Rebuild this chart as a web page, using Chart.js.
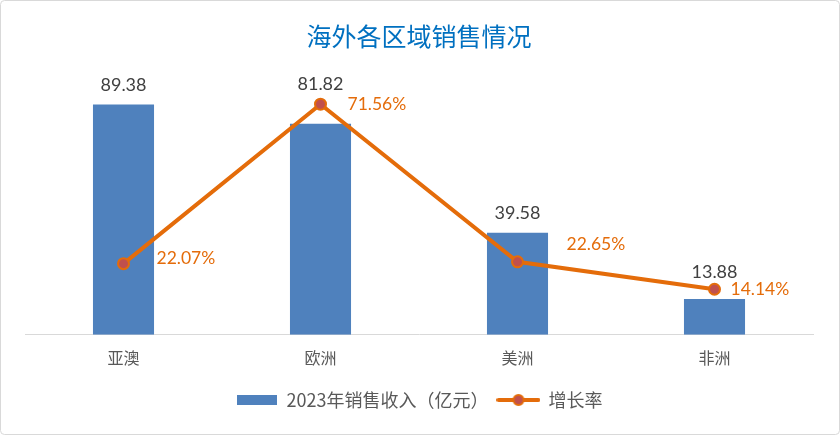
<!DOCTYPE html>
<html><head><meta charset="utf-8">
<script src="https://cdn.jsdelivr.net/npm/chart.js@4"></script>
<style>html,body{margin:0;padding:0;background:#fff}</style>
</head><body>
<canvas id="c" width="840" height="435" style="display:block;width:840px;height:435px"></canvas>
<script>
const categories = ['亚澳', '欧洲', '美洲', '非洲'];
const revenue = [89.38, 81.82, 39.58, 13.88];
const growth = [22.07, 71.56, 22.65, 14.14];
const seriesNames = ['2023年销售收入（亿元）', '增长率'];
const titleText = '海外各区域销售情况';

const BAR = '#4F81BD', LINE = '#E46C0A', MARK = '#C0504D';
const CJK = '"Noto Sans CJK SC", "Noto Sans", sans-serif';
const NUM = 'Lato, "Noto Sans", sans-serif';

function mkIcon(w, h, draw) {
  const c = document.createElement('canvas'); c.width = w; c.height = h;
  draw(c.getContext('2d')); return c;
}
const barIcon = mkIcon(40, 10, g => { g.fillStyle = BAR; g.fillRect(0, 0, 40, 10); });
const lineIcon = mkIcon(44, 14, g => {
  g.strokeStyle = LINE; g.lineWidth = 4; g.lineCap = 'round';
  g.beginPath(); g.moveTo(2, 7); g.lineTo(42, 7); g.stroke();
  g.beginPath(); g.arc(22, 7, 5, 0, Math.PI * 2); g.fillStyle = MARK; g.fill();
  g.lineWidth = 2; g.stroke();
});

const frame = {
  id: 'frame',
  beforeDraw(chart) {
    const g = chart.ctx; g.save();
    g.fillStyle = '#fff'; g.fillRect(0, 0, chart.width, chart.height);
    g.strokeStyle = '#D9D9D9'; g.lineWidth = 1;
    g.beginPath(); g.roundRect(0.5, 0.5, chart.width - 1, chart.height - 1, 4); g.stroke();
    g.restore();
  }
};

const valueLabels = {
  id: 'valueLabels',
  afterDatasetsDraw(chart, args, opts) {
    const g = chart.ctx; g.save();
    g.textBaseline = 'middle';
    g.font = '18px ' + NUM; g.fillStyle = '#404040'; g.textAlign = 'center';
    chart.getDatasetMeta(0).data.forEach((el, i) => {
      g.fillText(revenue[i].toFixed(2), el.x, el.y + opts.barDy[i]);
    });
    g.font = '17.5px ' + NUM; g.fillStyle = LINE; g.textAlign = 'left';
    chart.getDatasetMeta(1).data.forEach((el, i) => {
      g.fillText(growth[i].toFixed(2) + '%', el.x + opts.lineDx[i], el.y + opts.lineDy[i]);
    });
    g.restore();
  }
};

new Chart(document.getElementById('c'), {
  data: {
    labels: categories,
    datasets: [
      { type: 'bar', label: seriesNames[0], data: revenue, backgroundColor: BAR, yAxisID: 'y', order: 2,
        categoryPercentage: 1, barPercentage: 0.31 },
      { type: 'line', label: seriesNames[1], data: growth, borderColor: LINE, borderWidth: 4, yAxisID: 'y2', order: 1,
        pointRadius: 5.5, pointBorderWidth: 2, pointBackgroundColor: MARK, pointBorderColor: LINE, tension: 0 }
    ]
  },
  options: {
    responsive: false, animation: false, devicePixelRatio: 1,
    layout: { padding: { top: 21, left: 25, right: 27, bottom: 16 } },
    scales: {
      x: { offset: true, grid: { display: false, drawTicks: false },
           border: { display: true, color: '#D9D9D9', width: 1 },
           ticks: { padding: 14, color: '#595959', font: { family: CJK, size: 16 } } },
      y: { display: false, min: 0, max: 100 },
      y2: { display: false, min: 0, max: 80, position: 'right' }
    },
    plugins: {
      tooltip: { enabled: false },
      title: { display: true, text: titleText, color: '#0070C0', padding: { top: 0, bottom: 26 },
               font: { family: CJK, size: 25, weight: 'normal' } },
      legend: { position: 'bottom',
        labels: { usePointStyle: true, pointStyleWidth: 42, boxHeight: 14, padding: 9, color: '#595959',
          font: { family: CJK, size: 18 },
          generateLabels: () => [
            { text: seriesNames[0], pointStyle: barIcon, fontColor: '#595959', datasetIndex: 0, hidden: false, lineWidth: 0 },
            { text: seriesNames[1], pointStyle: lineIcon, fontColor: '#595959', datasetIndex: 1, hidden: false, lineWidth: 0 }
          ] } },
      valueLabels: { barDy: [-19, -40, -20, -27], lineDx: [33, 27, 49, 16], lineDy: [-5, 0, -17, 0] }
    }
  },
  plugins: [frame, valueLabels]
});
</script>
</body></html>
